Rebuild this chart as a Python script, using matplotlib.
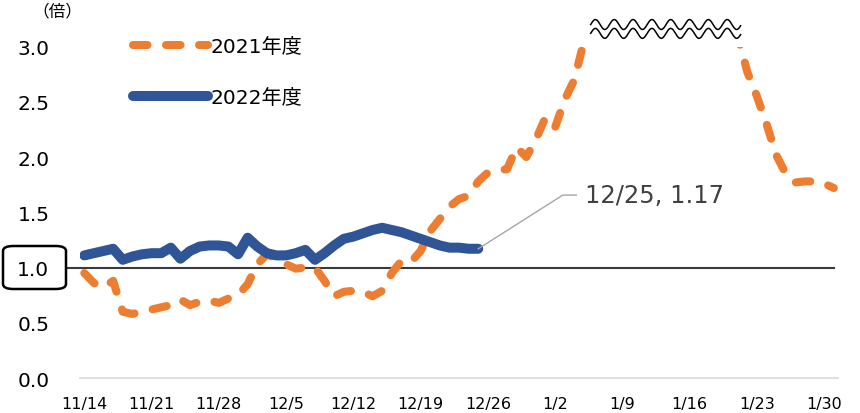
import numpy as np
import pandas as pd
import matplotlib
matplotlib.use("Agg")
import matplotlib.pyplot as plt
from matplotlib.patches import FancyBboxPatch

plt.rcParams['font.family'] = ['DejaVu Sans', 'Noto Sans CJK JP']

# daily categories 11/14 .. 1/31
dates = pd.date_range("2022-11-14", "2023-01-31", freq="D")
date_labels = [f"{d.month}/{d.day}" for d in dates]

# 2021年度 (values above 3.0 run off the top of the axis)
fy2021 = [0.95, 0.86, 0.82, 0.88, 0.60, 0.58, 0.60, 0.62, 0.64, 0.66,
          0.71, 0.66, 0.69, 0.70, 0.68, 0.72, 0.75, 0.85, 1.03, 1.12,
          1.08, 1.03, 0.99, 1.00, 1.00, 0.88, 0.74, 0.78, 0.79, 0.78,
          0.74, 0.79, 0.95, 1.06, 1.05, 1.15, 1.33, 1.44, 1.55, 1.62,
          1.65, 1.78, 1.86, 1.88, 1.89, 2.09, 2.00, 2.16, 2.36, 2.27,
          2.52, 2.70, 3.05, 3.40, 3.80, 4.20, 4.50, 4.60, 4.80, 4.90,
          4.70, 4.60, 4.50, 4.30, 4.10, 3.90, 3.70, 3.40, 3.10, 2.77,
          2.55, 2.30, 2.02, 1.85, 1.77, 1.78, 1.78, 1.76, 1.72]

# 2022年度 (up to 12/25)
fy2022 = [1.11, 1.13, 1.15, 1.17, 1.07, 1.10, 1.12, 1.13, 1.13, 1.18,
          1.08, 1.15, 1.19, 1.20, 1.20, 1.19, 1.12, 1.27, 1.19, 1.13,
          1.11, 1.11, 1.13, 1.16, 1.07, 1.13, 1.20, 1.26, 1.28, 1.31,
          1.34, 1.36, 1.34, 1.32, 1.29, 1.26, 1.23, 1.20, 1.18, 1.18,
          1.17, 1.17]

yticks = [0.0, 0.5, 1.0, 1.5, 2.0, 2.5, 3.0]

ORANGE = "#ED7D31"
BLUE = "#2F5597"

fig = plt.figure(figsize=(8.6, 4.14), dpi=100)
ax = fig.add_axes([0.093, 0.0845, 0.881, 0.8005])

x21 = np.arange(len(fy2021))
x22 = np.arange(len(fy2022))

ax.plot(x21, fy2021, color=ORANGE, lw=5.8, dashes=(1.8, 2.3),
        dash_capstyle="round", solid_capstyle="round", label="2021年度", zorder=2)
ax.plot(x22, fy2022, color=BLUE, lw=7.2, solid_capstyle="round",
        solid_joinstyle="round", label="2022年度", zorder=3)

ax.set_xlim(-0.45, len(dates) - 0.6)
ax.set_ylim(0, 3.0)

# reference line at 1.0, running out to the boxed tick label
ax.axhline(1.0, xmin=-0.016, xmax=0.995, color="#3a3a3a", lw=1.5,
           clip_on=False, zorder=1)

tick_pos = x21[::7]
ax.set_xticks(tick_pos)
ax.set_xticklabels([date_labels[i] for i in tick_pos], fontsize=11.5)
ax.set_yticks(yticks)
ax.set_yticklabels([f"{v:.1f}" for v in yticks], fontsize=14.5)
ax.tick_params(length=0)
ax.tick_params(axis="x", pad=13)
ax.tick_params(axis="y", pad=22)

for s in ["top", "right", "left"]:
    ax.spines[s].set_visible(False)
ax.spines["bottom"].set_color("#d9d9d9")
ax.spines["bottom"].set_linewidth(1.2)

# rounded box around the 1.0 label
box = FancyBboxPatch((3 / 860, 1 - 290 / 414), 63 / 860, 43 / 414,
                     boxstyle="round,pad=0,rounding_size=0.012",
                     transform=fig.transFigure, fill=False,
                     ec="black", lw=1.8)
fig.patches.append(box)

# break marks where 2021 runs above the scale
wx = np.linspace(52.7, 68.3, 400)
wave = 0.045 * np.sin((wx - 52.7) / 1.96 * 2 * np.pi)
ax.plot(wx, 3.20 + wave, color="black", lw=1.1, clip_on=False)
ax.plot(wx, 3.12 + wave, color="black", lw=1.1, clip_on=False)

# label of last 2022 point
lx, ly = x22[-1], fy2022[-1]
ax.plot([lx, lx + 8.8, lx + 10.2], [ly, ly + 0.486, ly + 0.486],
        color="#a6a6a6", lw=1.0, zorder=4)
ax.text(lx + 11.1, ly + 0.486, f"12/25, {ly:.2f}", fontsize=17.5,
        color="#404040", va="center", ha="left")

fig.text(32 / 860, 1 - 12 / 414, "（倍）", fontsize=12,
         va="center", ha="left", family=["Noto Sans CJK JP", "DejaVu Sans"])

ax.legend(loc="upper left", bbox_to_anchor=(133 / 860, 1 - 38 / 414),
          bbox_transform=fig.transFigure, frameon=False,
          handlelength=3.7, handletextpad=0.15, labelspacing=1.6,
          borderpad=0, borderaxespad=0,
          prop={"family": ["DejaVu Sans", "Noto Sans CJK JP"], "size": 14.5})

fig.savefig("out.png", dpi=100)
